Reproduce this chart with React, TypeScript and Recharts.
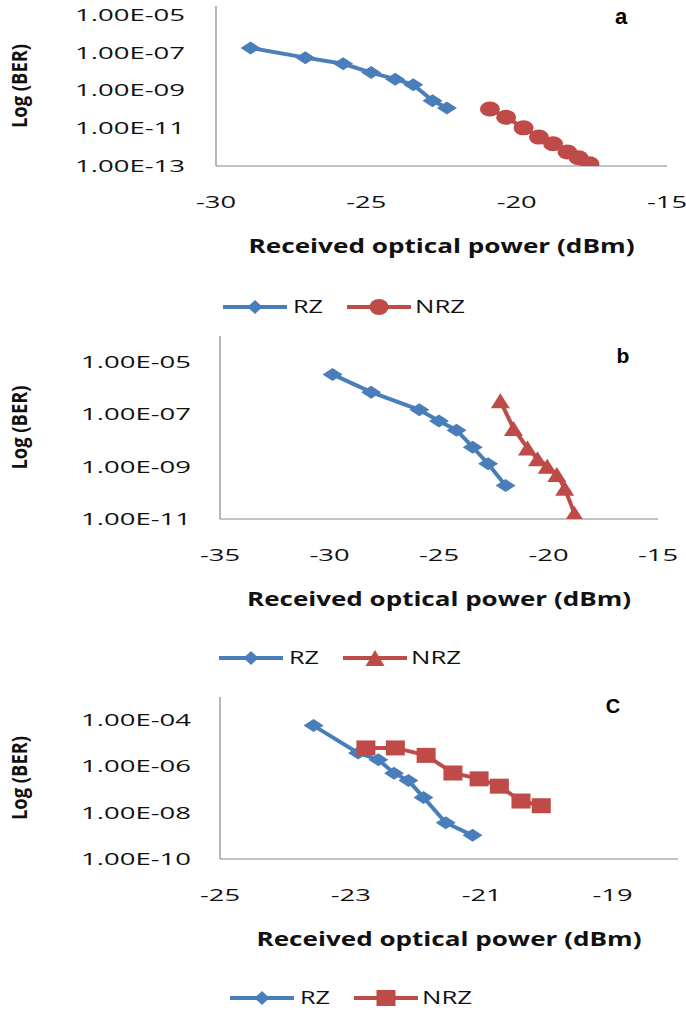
import React from 'react';
import { LineChart, Line, XAxis, YAxis, Legend, Label } from 'recharts';

const BLUE = '#4A7EBB';
const RED = '#BE4B48';
const AXIS = '#868686';
const FONT = '"Open Sans", "Liberation Sans", sans-serif';

// ---------- Panel a ----------
const aRzPower = [-28.85, -27.03, -25.77, -24.84, -24.04, -23.44, -22.8, -22.32];
const aRzBer = [1.8e-7, 5.5e-8, 2.6e-8, 8.9e-9, 4.0e-9, 2.0e-9, 2.9e-10, 1.2e-10];
const aNrzPower = [-20.89, -20.35, -19.77, -19.26, -18.79, -18.31, -17.94, -17.58];
const aNrzBer = [1.05e-10, 3.8e-11, 1.05e-11, 3.4e-12, 1.5e-12, 5.5e-13, 2.75e-13, 1.3e-13];
const aXTicks = [-30, -25, -20, -15];
const aYTicks = [1e-13, 1e-11, 1e-9, 1e-7, 1e-5];

// ---------- Panel b ----------
const bRzPower = [-29.86, -28.1, -25.9, -25.0, -24.2, -23.46, -22.76, -21.96];
const bRzBer = [3.4e-6, 7.1e-7, 1.5e-7, 5.6e-8, 2.5e-8, 5.6e-9, 1.3e-9, 1.9e-10];
const bNrzPower = [-22.2, -21.6, -20.96, -20.5, -20.06, -19.62, -19.26, -18.82];
const bNrzBer = [3.3e-7, 2.9e-8, 5.2e-9, 2.0e-9, 1.05e-9, 5.0e-10, 1.5e-10, 1.66e-11];
const bXTicks = [-35, -30, -25, -20, -15];
const bYTicks = [1e-11, 1e-9, 1e-7, 1e-5];

// ---------- Panel c ----------
const cRzPower = [-23.57, -22.89, -22.58, -22.34, -22.12, -21.89, -21.55, -21.14];
const cRzBer = [5.8e-5, 3.8e-6, 1.95e-6, 5.1e-7, 2.45e-7, 4.6e-8, 3.7e-9, 1.05e-9];
const cNrzPower = [-22.77, -22.32, -21.85, -21.44, -21.04, -20.73, -20.4, -20.09];
const cNrzBer = [6.3e-6, 6.3e-6, 3.0e-6, 5.2e-7, 2.9e-7, 1.4e-7, 3.2e-8, 2.0e-8];
const cXTicks = [-25, -23, -21, -19];
const cYTicks = [1e-10, 1e-8, 1e-6, 1e-4];

const seriesNames = ['RZ', 'NRZ'];
const panelTags = ['a', 'b', 'C'];
const xTitle = 'Received optical power (dBm)';
const yTitle = 'Log (BER)';

const zip = (p: number[], b: number[]) => p.map((v, i) => ({ p: v, ber: b[i] }));

const formatBer = (v: number) => {
  const e = Math.round(Math.log10(v));
  return `1.00E${e < 0 ? '-' : '+'}${String(Math.abs(e)).padStart(2, '0')}`;
};

type Shape = 'diamond' | 'circle' | 'triangle' | 'square';

function Marker({ shape, cx, cy, w, h, fill }: { shape: Shape; cx: number; cy: number; w: number; h: number; fill: string }) {
  if (shape === 'diamond')
    return <polygon points={`${cx},${cy - h / 2} ${cx + w / 2},${cy} ${cx},${cy + h / 2} ${cx - w / 2},${cy}`} fill={fill} />;
  if (shape === 'circle') return <ellipse cx={cx} cy={cy} rx={w / 2} ry={h / 2} fill={fill} />;
  if (shape === 'triangle')
    return <polygon points={`${cx},${cy - h / 2} ${cx + w / 2},${cy + h / 2} ${cx - w / 2},${cy + h / 2}`} fill={fill} />;
  return <rect x={cx - w / 2} y={cy - h / 2} width={w} height={h} fill={fill} />;
}

const MARK_SIZE: Record<Shape, [number, number]> = {
  diamond: [20, 13],
  circle: [20, 15],
  triangle: [19, 15],
  square: [19, 15],
};

const dotRenderer = (shape: Shape, color: string) => (props: any) => {
  const [w, h] = MARK_SIZE[shape];
  if (props.cx == null || props.cy == null) return <g key={`d-${props.index}`} />;
  return (
    <g key={`d-${props.index}`}>
      <Marker shape={shape} cx={props.cx} cy={props.cy} w={w} h={h} fill={color} />
    </g>
  );
};

const YTick = (props: any) => (
  <text
    x={props.x}
    y={props.y}
    dy="0.35em"
    textAnchor="end"
    fontFamily={FONT}
    fontSize={17}
    fill="#111"
    textLength={110}
    lengthAdjust="spacingAndGlyphs"
  >
    {formatBer(props.payload.value)}
  </text>
);

const XTick = (props: any) => (
  <text
    x={props.x}
    y={props.y}
    dy="0.35em"
    textAnchor="middle"
    fontFamily={FONT}
    fontSize={17}
    fill="#111"
    textLength={40}
    lengthAdjust="spacingAndGlyphs"
  >
    {String(props.payload.value)}
  </text>
);

type PanelProps = {
  top: number;
  height: number;
  plotTop: number;
  plotLeft: number;
  plotRight: number;
  plotBottom: number;
  xDomain: [number, number];
  xTicks: number[];
  yDomain: [number, number];
  yTicks: number[];
  yTickGap: number;
  rz: { p: number; ber: number }[];
  nrz: { p: number; ber: number }[];
  nrzShape: Shape;
  legendY: number;
  legendX: number;
  tag: string;
  tagX: number;
  tagY: number;
  tagSize: number;
  titleLen: number;
};

function Panel(pp: PanelProps) {
  const W = 686;
  const shapes: Record<string, Shape> = { RZ: 'diamond', NRZ: pp.nrzShape };

  const LegendContent = (props: any) => {
    const payload = [...((props.payload || []) as any[])].sort(
      (a, b) => seriesNames.indexOf(String(a.value)) - seriesNames.indexOf(String(b.value))
    );
    const lineLen = 64;
    const items = [
      { x: 0, tx: 70, tl: 30 },
      { x: 124, tx: 192, tl: 50 },
    ];
    return (
      <svg width={W} height={24} style={{ display: 'block' }}>
        {payload.map((e: any, i: number) => {
          const it = items[i] || items[0];
          const x0 = pp.legendX + it.x;
          const name = String(e.value);
          const color = e.color;
          const shape = shapes[name] || 'diamond';
          const sz: [number, number] = shape === 'diamond' ? [15, 14] : [19, 16];
          return (
            <g key={name}>
              <line x1={x0} y1={12} x2={x0 + lineLen} y2={12} stroke={color} strokeWidth={4} />
              <Marker shape={shape} cx={x0 + lineLen / 2} cy={12} w={sz[0]} h={sz[1]} fill={color} />
              <text
                x={pp.legendX + it.tx}
                y={12}
                dy="0.35em"
                fontFamily={FONT}
                fontSize={18}
                fill="#111"
                textLength={it.tl}
                lengthAdjust="spacingAndGlyphs"
              >
                {name}
              </text>
            </g>
          );
        })}
      </svg>
    );
  };

  return (
    <div style={{ position: 'absolute', left: 0, top: pp.top, width: W, height: pp.height }}>
      <LineChart
        width={W}
        height={pp.height}
        margin={{ top: pp.plotTop, right: W - pp.plotRight, bottom: 0, left: 0 }}
      >
        <XAxis
          type="number"
          dataKey="p"
          domain={pp.xDomain}
          ticks={pp.xTicks}
          interval={0}
          allowDataOverflow
          height={pp.height - pp.plotBottom}
          tickSize={0}
          tickMargin={36}
          tickLine={false}
          axisLine={{ stroke: AXIS, strokeWidth: 1.2 }}
          tick={<XTick />}
        >
          <Label
            content={(props: any) => {
              const vb = props.viewBox;
              return (
                <text
                  x={vb.x + vb.width / 2}
                  y={vb.y + 80}
                  dy="0.35em"
                  textAnchor="middle"
                  fontFamily={FONT}
                  fontWeight="bold"
                  fontSize={20}
                  fill="#111"
                  textLength={pp.titleLen}
                  lengthAdjust="spacingAndGlyphs"
                >
                  {xTitle}
                </text>
              );
            }}
          />
        </XAxis>
        <YAxis
          type="number"
          scale="log"
          domain={pp.yDomain}
          ticks={pp.yTicks}
          interval={0}
          allowDataOverflow
          width={pp.plotLeft}
          tickSize={0}
          tickMargin={pp.yTickGap}
          tickLine={false}
          axisLine={{ stroke: AXIS, strokeWidth: 1.2 }}
          tick={<YTick />}
        >
          <Label
            content={(props: any) => {
              const vb = props.viewBox;
              const x = vb.x + 20;
              const y = vb.y + vb.height / 2;
              return (
                <text
                  x={x}
                  y={y}
                  dy="0.35em"
                  transform={`rotate(-90, ${x}, ${y})`}
                  textAnchor="middle"
                  fontFamily={FONT}
                  fontWeight="bold"
                  fontSize={21}
                  fill="#111"
                  textLength={84}
                  lengthAdjust="spacingAndGlyphs"
                >
                  {yTitle}
                </text>
              );
            }}
          />
        </YAxis>
        <Legend
          verticalAlign="middle"
          align="center"
          layout="horizontal"
          wrapperStyle={{ left: 0, top: pp.legendY - 12, width: W, height: 24 }}
          content={<LegendContent />}
        />
        <Line
          data={pp.rz}
          dataKey="ber"
          name={seriesNames[0]}
          stroke={BLUE}
          strokeWidth={4}
          dot={dotRenderer('diamond', BLUE)}
          activeDot={false}
          isAnimationActive={false}
        />
        <Line
          data={pp.nrz}
          dataKey="ber"
          name={seriesNames[1]}
          stroke={RED}
          strokeWidth={4}
          dot={dotRenderer(pp.nrzShape, RED)}
          activeDot={false}
          isAnimationActive={false}
        />
      </LineChart>
      <svg
        width={60}
        height={30}
        style={{ position: 'absolute', left: pp.tagX - 30, top: pp.tagY - 22 }}
      >
        <text
          x={30}
          y={22}
          textAnchor="middle"
          fontFamily='"Liberation Sans", Arial, sans-serif'
          fontWeight="bold"
          fontSize={pp.tagSize}
          fill="#000"
        >
          {pp.tag}
        </text>
      </svg>
    </div>
  );
}

export default function App() {
  return (
    <div style={{ position: 'absolute', left: 0, top: 0, width: 686, height: 1010, background: '#fff' }}>
      <Panel
        top={0}
        height={330}
        plotTop={6}
        plotLeft={216}
        plotRight={667}
        plotBottom={166}
        xDomain={[-30, -15]}
        xTicks={aXTicks}
        yDomain={[1e-13, 3e-5]}
        yTicks={aYTicks}
        yTickGap={31}
        rz={zip(aRzPower, aRzBer)}
        nrz={zip(aNrzPower, aNrzBer)}
        nrzShape="circle"
        legendY={307}
        legendX={223}
        tag={panelTags[0]}
        tagX={621}
        tagY={24}
        tagSize={22}
        titleLen={386}
      />
      <Panel
        top={330}
        height={340}
        plotTop={6}
        plotLeft={220}
        plotRight={658}
        plotBottom={189}
        xDomain={[-35, -15]}
        xTicks={bXTicks}
        yDomain={[1e-11, 1e-4]}
        yTicks={bYTicks}
        yTickGap={29}
        rz={zip(bRzPower, bRzBer)}
        nrz={zip(bNrzPower, bNrzBer)}
        nrzShape="triangle"
        legendY={328}
        legendX={219}
        tag={panelTags[1]}
        tagX={623}
        tagY={33}
        tagSize={21}
        titleLen={384}
      />
      <Panel
        top={670}
        height={340}
        plotTop={27}
        plotLeft={220}
        plotRight={678}
        plotBottom={189}
        xDomain={[-25, -18]}
        xTicks={cXTicks}
        yDomain={[1e-10, 1e-3]}
        yTicks={cYTicks}
        yTickGap={29}
        rz={zip(cRzPower, cRzBer)}
        nrz={zip(cNrzPower, cNrzBer)}
        nrzShape="square"
        legendY={328}
        legendX={230}
        tag={panelTags[2]}
        tagX={613}
        tagY={43}
        tagSize={20}
        titleLen={385}
      />
    </div>
  );
}
